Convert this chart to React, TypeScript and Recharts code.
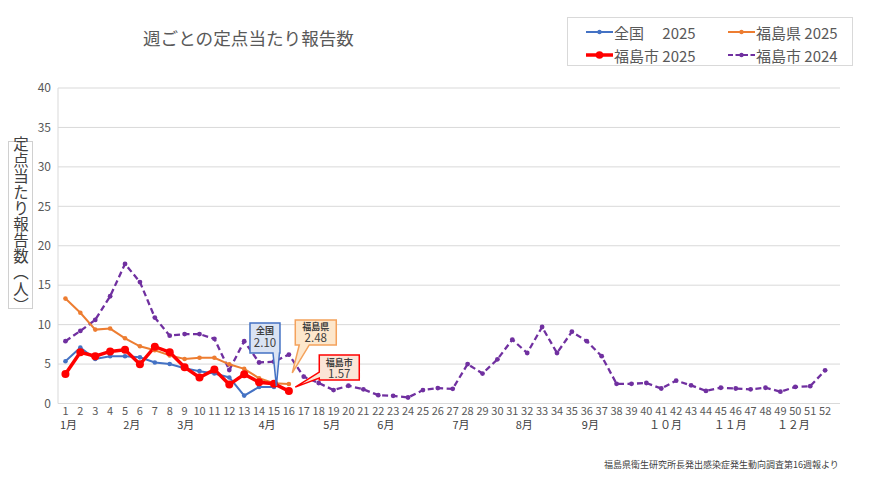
import React from 'react';
import { LineChart, Line, XAxis, YAxis, CartesianGrid, ReferenceDot } from 'recharts';

const weeks = [1,2,3,4,5,6,7,8,9,10,11,12,13,14,15,16,17,18,19,20,21,22,23,24,25,26,27,28,29,30,31,32,33,34,35,36,37,38,39,40,41,42,43,44,45,46,47,48,49,50,51,52];
const national2025 = [5.35, 7.1, 5.65, 6.0, 6.0, 5.85, 5.2, 5.0, 4.46, 4.1, 3.8, 3.3, 1.0, 2.1, 2.10];
const pref2025 = [13.3, 11.5, 9.37, 9.5, 8.27, 7.25, 6.75, 6.1, 5.65, 5.8, 5.8, 4.97, 4.4, 3.2, 2.56, 2.48];
const city2025 = [3.75, 6.5, 6.0, 6.6, 6.8, 4.97, 7.2, 6.5, 4.6, 3.3, 4.3, 2.4, 3.7, 2.7, 2.5, 1.57];
const city2024 = [7.9, 9.2, 10.6, 13.6, 17.7, 15.4, 10.9, 8.6, 8.8, 8.8, 8.2, 4.25, 7.9, 5.2, 5.3, 6.2, 3.4, 2.6, 1.7, 2.25, 1.8, 1.06, 0.97, 0.76, 1.7, 1.95, 1.86, 5.0, 3.8, 5.6, 8.1, 6.4, 9.7, 6.4, 9.1, 7.9, 6.0, 2.5, 2.5, 2.6, 1.9, 2.9, 2.3, 1.6, 2.0, 1.9, 1.8, 2.0, 1.5, 2.1, 2.2, 4.2];
const yTicks = [0, 5, 10, 15, 20, 25, 30, 35, 40];
const monthTicks = [1.2, 5.4, 9.0, 14.4, 18.7, 22.3, 27.3, 31.5, 35.9, 40.9, 45.2, 49.4];
const monthLabels = ['1月', '2月', '3月', '4月', '5月', '6月', '7月', '8月', '9月', '１０月', '１１月', '１２月'];

const data = weeks.map((w, i) => ({
  week: w,
  national: i < national2025.length ? national2025[i] : null,
  pref: i < pref2025.length ? pref2025[i] : null,
  city: i < city2025.length ? city2025[i] : null,
  city24: city2024[i],
}));

const FONT = '"Noto Sans CJK JP", "Noto Sans", sans-serif';
const C_NAT = '#4472c4';
const C_PREF = '#ed7d31';
const C_CITY = '#ff0000';
const C_24 = '#7030a0';

type CalloutCfg = {
  box: [number, number, number, number];
  side: 'bottom' | 'left';
  base: [number, number];
  tip: [number, number];
  fill: string;
  stroke: string;
  name: string;
  value: string;
  nameDy: number;
  valueDy: number;
};

const makeCallout = (cfg: CalloutCfg) => (props: any) => {
  const { cx, cy } = props;
  if (cx == null || cy == null) return null;
  const [l, t, r, b] = cfg.box;
  const L = cx + l, T = cy + t, R = cx + r, B = cy + b;
  const tx = cx + cfg.tip[0], ty = cy + cfg.tip[1];
  let d = '';
  if (cfg.side === 'bottom') {
    const p1 = cx + cfg.base[0], p2 = cx + cfg.base[1];
    d = `M${L},${T} H${R} V${B} H${p2} L${tx},${ty} L${p1},${B} H${L} Z`;
  } else {
    const p1 = cy + cfg.base[0], p2 = cy + cfg.base[1];
    d = `M${L},${T} H${R} V${B} H${L} V${p2} L${tx},${ty} L${L},${p1} Z`;
  }
  const mx = (L + R) / 2;
  return (
    <g>
      <path d={d} fill={cfg.fill} stroke={cfg.stroke} strokeWidth={1.5} />
      <text x={mx} y={T + cfg.nameDy} textAnchor="middle" dominantBaseline="central" fontSize={9} fontWeight={600} fill="#404040" fontFamily={FONT}>{cfg.name}</text>
      <text x={mx} y={T + cfg.valueDy} textAnchor="middle" dominantBaseline="central" fontSize={11.5} fill="#404040" fontFamily={FONT}>{cfg.value}</text>
    </g>
  );
};

const natCallout = makeCallout({ box: [-24, -64, 6, -34], side: 'bottom', base: [-1, 5.5], tip: [2.4, -1], fill: '#dae3f3', stroke: C_NAT, name: '全国', value: '2.10', nameDy: 8, valueDy: 19 });
const prefCallout = makeCallout({ box: [6.4, -64, 47.4, -39], side: 'bottom', base: [10.4, 20.4], tip: [3.4, -11], fill: '#fde7cc', stroke: '#f4a25c', name: '福島県', value: '2.48', nameDy: 6.5, valueDy: 17.5 });
const cityCallout = makeCallout({ box: [30.4, -36, 70.4, -11], side: 'left', base: [-19, -13], tip: [6.4, -4], fill: '#fbe5d6', stroke: C_CITY, name: '福島市', value: '1.57', nameDy: 7.5, valueDy: 18 });

const LegendItem = ({ color, dashed, thick, label }: { color: string; dashed?: boolean; thick?: boolean; label: string }) => (
  <div style={{ display: 'flex', alignItems: 'center', height: 20 }}>
    <svg width={27} height={12} style={{ marginRight: 1 }}>
      <line x1={0} y1={6} x2={27} y2={6} stroke={color} strokeWidth={thick ? 3.5 : 2} strokeDasharray={dashed ? '5 2.5' : undefined} />
      <circle cx={13.5} cy={6} r={thick ? 3.8 : 2.2} fill={color} />
    </svg>
    <span style={{ fontSize: 15, color: '#595959', whiteSpace: 'pre' }}>{label}</span>
  </div>
);

export default function App() {
  return (
    <div style={{ position: 'absolute', left: 0, top: 0, width: 870, height: 477, background: '#fff', fontFamily: FONT }}>
      <div style={{ position: 'absolute', left: 143, top: 26, fontSize: 17.6, color: '#595959', lineHeight: '24px', whiteSpace: 'nowrap' }}>
        週ごとの定点当たり報告数
      </div>
      <div style={{ position: 'absolute', left: 567, top: 17, width: 284, height: 47, border: '1px solid #d9d9d9', boxSizing: 'content-box' }}>
        <div style={{ position: 'absolute', left: 18, top: 4 }}><LegendItem color={C_NAT} label={'全国　 2025'} /></div>
        <div style={{ position: 'absolute', left: 160, top: 4 }}><LegendItem color={C_PREF} label={'福島県 2025'} /></div>
        <div style={{ position: 'absolute', left: 18, top: 27 }}><LegendItem color={C_CITY} thick label={'福島市 2025'} /></div>
        <div style={{ position: 'absolute', left: 160, top: 27 }}><LegendItem color={C_24} dashed label={'福島市 2024'} /></div>
      </div>
      <div style={{ position: 'absolute', left: 8, top: 141, width: 23, height: 166, border: '1px solid #d0d0d0', display: 'flex', alignItems: 'center', justifyContent: 'center', overflow: 'visible' }}>
        <span style={{ writingMode: 'vertical-rl', fontSize: 15.5, color: '#404040', letterSpacing: 0.6, lineHeight: '23px', whiteSpace: 'nowrap' }}>定点当たり報告数（人）</span>
      </div>
      <div style={{ position: 'absolute', left: 604, top: 458, fontSize: 9, color: '#404040', whiteSpace: 'nowrap' }}>
        福島県衛生研究所長発出感染症発生動向調査第16週報より
      </div>
      <LineChart width={870} height={477} data={data} margin={{ top: 88, right: 30, left: 28, bottom: 40.5 }} style={{ position: 'absolute', left: 0, top: 0 }}>
        <CartesianGrid vertical={false} stroke="#d9d9d9" />
        <XAxis dataKey="week" type="number" domain={[0.5, 52.5]} ticks={weeks} interval={0} height={17} tickLine={false} tickSize={0} tickMargin={4} axisLine={{ stroke: '#d9d9d9' }} tick={{ fontSize: 11, fill: '#595959', fontFamily: FONT }} allowDecimals={false} />
        <XAxis xAxisId="m" dataKey="week" type="number" domain={[0.5, 52.5]} ticks={monthTicks} interval={0} height={16} tickLine={false} tickSize={0} tickMargin={1} axisLine={false} tick={{ fontSize: 11, fill: '#404040', fontFamily: FONT }} tickFormatter={(v: number) => monthLabels[monthTicks.indexOf(v)] ?? ''} />
        <YAxis domain={[0, 40]} ticks={yTicks} width={30} tickLine={false} tickSize={0} tickMargin={7} axisLine={{ stroke: '#d9d9d9' }} tick={{ fontSize: 12, fill: '#595959', fontFamily: FONT }} />
        <YAxis yAxisId="r" orientation="right" domain={[0, 40]} width={0} tick={false} tickLine={false} axisLine={{ stroke: '#d9d9d9' }} />
        <Line dataKey="city24" stroke={C_24} strokeWidth={2.3} strokeDasharray="6 3.5" isAnimationActive={false} dot={{ r: 2.4, fill: C_24, stroke: C_24, strokeWidth: 0, strokeDasharray: '0' }} />
        <Line dataKey="national" stroke={C_NAT} strokeWidth={2} isAnimationActive={false} connectNulls={false} dot={{ r: 2.3, fill: C_NAT, stroke: C_NAT, strokeWidth: 0 }} />
        <Line dataKey="pref" stroke={C_PREF} strokeWidth={2} isAnimationActive={false} connectNulls={false} dot={{ r: 2.3, fill: C_PREF, stroke: C_PREF, strokeWidth: 0 }} />
        <Line dataKey="city" stroke={C_CITY} strokeWidth={3.5} isAnimationActive={false} connectNulls={false} dot={{ r: 4, fill: C_CITY, stroke: C_CITY, strokeWidth: 0 }} />
        <ReferenceDot x={15} y={2.10} r={0} shape={natCallout} ifOverflow="visible" />
        <ReferenceDot x={16} y={2.48} r={0} shape={prefCallout} ifOverflow="visible" />
        <ReferenceDot x={16} y={1.57} r={0} shape={cityCallout} ifOverflow="visible" />
      </LineChart>
    </div>
  );
}
